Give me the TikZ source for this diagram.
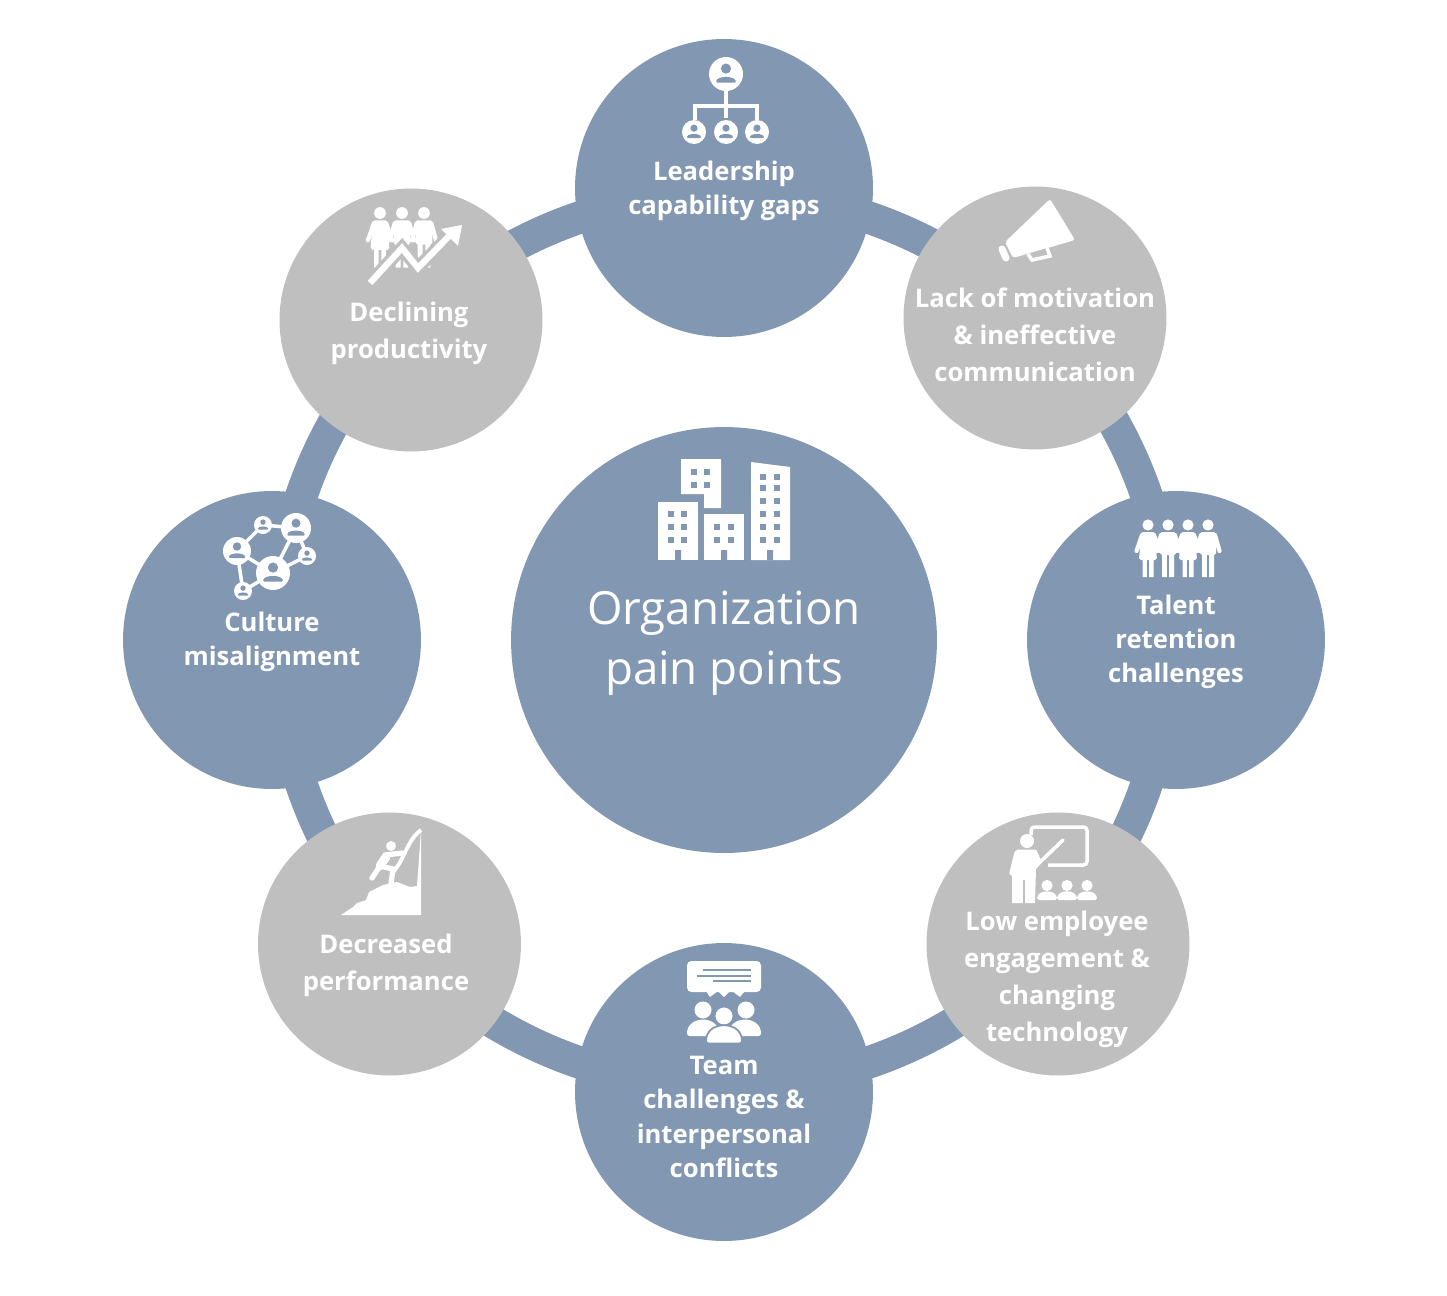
\documentclass[tikz,border=0pt]{standalone}
\usepackage{fontspec}
\setmainfont{Open Sans}
\definecolor{painblue}{HTML}{8297B1}
\definecolor{paingray}{HTML}{BFBFBF}
\tikzset{
 painnode/.style={circle,draw=none,fill=painblue,minimum size=5.96cm,inner sep=0pt},
 greynode/.style={circle,draw=none,fill=paingray,minimum size=5.26cm,inner sep=0pt},
 hubnode/.style={circle,draw=none,fill=painblue,minimum size=8.52cm,inner sep=0pt},
 painlabel/.style={align=center,text=white,font=\fontsize{14.6}{19.45}\selectfont\bfseries,inner sep=0pt},
 greylabel/.style={align=center,text=white,font=\fontsize{14.6}{21}\selectfont\bfseries,inner sep=0pt},
 hublabel/.style={align=center,text=white,font=\fontsize{26}{34}\selectfont,inner sep=0pt},
 limb/.style={draw=white,line width=2.4pt,line cap=round},
 wire/.style={draw=white,line width=2pt}
}
% small icon parts, all in pixel units of the picture
\newcommand{\bustdisc}[3]{%
 \fill[white] (#1,#2) circle (#3);
 \begin{scope}[shift={(#1,#2)},scale=#3]
  \fill[painblue] (0,-0.32) circle (0.3);
  \fill[painblue,rounded corners=0.5pt] (-0.58,0.5) .. controls (-0.58,0.08) and (0.58,0.08) .. (0.58,0.5) -- cycle;
 \end{scope}}
\newcommand{\womanfig}[3]{%
 \begin{scope}[shift={(#1,#2)},scale=#3]
  \fill[white] (0,0) circle (5.6);
  \fill[white,rounded corners=1pt] (-7,7) -- (7,7) -- (9,35) -- (-9,35) -- cycle;
  \fill[white] (-5.5,34) rectangle (-1.2,52) (1.2,34) rectangle (5.5,52);
  \draw[limb] (-6,10) -- (-11.5,26) (6,10) -- (11.5,26);
 \end{scope}}
\newcommand{\manfig}[3]{%
 \begin{scope}[shift={(#1,#2)},scale=#3]
  \fill[white] (0,0) circle (5.6);
  \fill[white,rounded corners=1pt] (-8,7) rectangle (8,30);
  \fill[white] (-6,29) rectangle (-1.2,52) (1.2,29) rectangle (6,52);
  \draw[limb] (-7,10) -- (-11.5,26) (7,10) -- (11.5,26);
 \end{scope}}
\newcommand{\smallbust}[3]{%
 \begin{scope}[shift={(#1,#2)},scale=#3]
  \fill[white] (0,-6.5) circle (5.6);
  \fill[white,rounded corners=1pt] (-10,8) .. controls (-10,-3) and (10,-3) .. (10,8) -- cycle;
 \end{scope}}
\newcommand{\hall}[4]{\fill[white] (#1,#2) rectangle (#3,#4);}
\newcommand{\pane}[2]{\fill[painblue] (#1-3,#2-3) rectangle (#1+3,#2+3);}
\begin{document}
\begin{tikzpicture}[x=0.02cm,y=-0.02cm]
 \useasboundingbox (0,0) rectangle (1447,1295);
 \coordinate (mid) at (724,640);
 \draw[painblue,line width=18.5pt] (mid) circle (8.93cm);

 \node[hubnode] (hub) at (mid) {};
 \node[painnode] (lead) at (724,188) {};
 \node[greynode] (motiv) at (1035,318) {};
 \node[painnode] (talent) at (1176,640) {};
 \node[greynode] (engage) at (1058,944) {};
 \node[painnode] (team) at (724,1092) {};
 \node[greynode] (perf) at (389.5,944) {};
 \node[painnode] (culture) at (272,640) {};
 \node[greynode] (prod) at (411,320) {};

 \node[hublabel] (hubtxt) at (724,643) {Organization\\pain points};
 \node[painlabel] (leadtxt) at (724,191) {Leadership\\capability gaps};
 \node[greylabel] (motivtxt) at (1035,335) {Lack of motivation\\\& ineffective\\communication};
 \node[painlabel] (talenttxt) at (1176,642) {Talent\\retention\\challenges};
 \node[greylabel] (engagetxt) at (1057,979) {Low employee\\engagement \&\\changing\\technology};
 \node[painlabel] (teamtxt) at (724,1117) {Team\\challenges \&\\interpersonal\\conflicts};
 \node[greylabel] (perftxt) at (386,965) {Decreased\\performance};
 \node[painlabel] (culturetxt) at (272,642) {Culture\\misalignment};
 \node[greylabel] (prodtxt) at (409,333) {Declining\\productivity};

 % buildings over the hub label
 \hall{658}{502}{698}{560}
 \fill[white] (681,459) -- (721,459) -- (721,508) -- (704,508) -- (704,494) -- (681,494) -- cycle;
 \hall{704}{514}{744}{560}
 \fill[white] (751,462) -- (790,467) -- (790,560) -- (751,560) -- cycle;
 \foreach \px/\py in {671/514,684/514,671/527,684/527,671/540,684/540,
  694/472,707/472,694/485,707/485,717/527,731/527,717/540,731/540,
  763/477,777/477,763/488,777/488,763/501,777/501,763/514,777/514,763/527,777/527,763/540,777/540}
  {\pane{\px}{\py}}
 \fill[painblue] (675,550) rectangle (681,560) (721,550) rectangle (727,560) (767,550) rectangle (773,560);

 % org chart
 \draw[wire] (726,88) -- (726,118) (695,120) |- (726,106) -| (757,120);
 \bustdisc{726}{74}{17}
 \bustdisc{694}{132}{12}
 \bustdisc{726}{132}{12}
 \bustdisc{757}{132}{12}

 % megaphone
 \fill[white,rounded corners=1.5pt] (1050,199) -- (1075,240) -- (1013,258) -- (1005,242) -- cycle;
 \draw[white,line width=2pt,fill=paingray] (1028,254) -- (1032,260) -- (1050,256) -- (1047,248);
 \draw[white,line width=4pt,line cap=round] (1002,249) -- (1006,258);

 % talent row
 \womanfig{1148}{525}{1}
 \manfig{1168}{525}{1}
 \womanfig{1188}{525}{1}
 \manfig{1208}{525}{1}

 % trainer and audience
 \draw[wire,rounded corners=2pt] (1031,835) -- (1031,827) -- (1087,827) -- (1087,865) -- (1048,865);
 \fill[white] (1027,841) circle (7);
 \fill[white] (1017,849.5) -- (1036,849.5) -- (1042,862) -- (1036,869) -- (1035,903) -- (1012,903) -- (1012,865) -- cycle;
 \fill[paingray] (1022.5,880) rectangle (1024.5,903);
 \draw[limb,line width=3pt] (1017,853) -- (1012,873);
 \draw[white,line width=2pt,line cap=round] (1037,865) -- (1063,840);
 \smallbust{1047}{892}{1}
 \smallbust{1067}{892}{1}
 \smallbust{1087}{892}{1}

 % speech bubble and team
 \fill[white,rounded corners=2.5pt] (687,961) rectangle (761,992);
 \fill[white] (706,991) -- (718,991) -- (710,997) -- cycle (718,991) -- (730,991) -- (724,997) -- cycle (732,991) -- (745,991) -- (740,997) -- cycle;
 \draw[painblue,line width=0.8pt] (703,970) -- (751,970) (697,976) -- (751,976) (713,981) -- (751,981);
 \fill[white] (703,1010) circle (8.5) (746,1010) circle (8.5);
 \fill[white,rounded corners=1.5pt] (687,1036) .. controls (687,1015) and (719,1015) .. (719,1036) -- cycle;
 \fill[white,rounded corners=1.5pt] (729,1036) .. controls (729,1015) and (761,1015) .. (761,1036) -- cycle;
 \fill[white,draw=painblue,line width=1pt] (724,1016) circle (9.5);
 \fill[white,draw=painblue,line width=1pt,rounded corners=1.5pt] (706,1043.5) .. controls (706,1020) and (742,1020) .. (742,1043.5) -- cycle;

 % climber
 \fill[white] (421,830) -- (421,915) -- (341,915) -- (353,907) -- (357,903) -- (366,900) -- (369,892) -- (383,885)
  -- (397,882) -- (410,887) -- (417,886) -- cycle;
 \draw[paingray,line width=1pt] (413,884) -- (419,833);
 \draw[white,line width=2.2pt] (421,830) .. controls (410,838) and (407,850) .. (399,864) -- (392,874);
 \fill[white] (391,846) circle (5);
 \draw[white,line width=5pt,line cap=round] (386,857) -- (380,866);
 \draw[limb,line width=3pt] (380,866) -- (372,878) (385,855) -- (402,853) (380,866) -- (393,869) -- (391,884);

 % network
 \coordinate (neta) at (296,528);
 \coordinate (netb) at (263,525);
 \coordinate (netc) at (237,551);
 \coordinate (netd) at (307,556);
 \coordinate (nete) at (273,573);
 \coordinate (netf) at (243,591);
 \draw[wire] (netb) -- (neta) -- (netd) -- (nete) -- (neta) (netb) -- (netc) -- (nete) -- (netf) -- (netc);
 \bustdisc{296}{528}{15}
 \bustdisc{263}{525}{9}
 \bustdisc{237}{551}{14}
 \bustdisc{307}{556}{9}
 \bustdisc{273}{573}{17}
 \bustdisc{243}{591}{9}

 % people and rising arrow
 \womanfig{380}{213}{1.05}
 \manfig{402}{213}{1.05}
 \manfig{424}{213}{1.05}
 \draw[paingray,line width=7.5pt] (366,287) -- (402,248) -- (418,268) -- (452,233);
 \draw[white,line width=3.6pt] (370,283) -- (402,248) -- (418,268) -- (452,233);
 \fill[white] (462,225) -- (441,229) -- (458,246) -- cycle;
\end{tikzpicture}
\end{document}
